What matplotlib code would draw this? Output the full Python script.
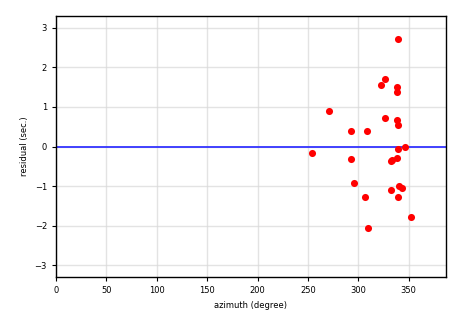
import matplotlib
matplotlib.use("Agg")
import matplotlib.pyplot as plt

azimuth = [339.4, 326.5, 322.5, 338.4, 338.4, 270.6, 326.5, 338.4, 339.4, 292.7,
           308.6, 346.3, 339.4, 254.0, 292.7, 338.4, 333.8, 332.1, 295.7, 332.1,
           340.4, 343.4, 306.6, 339.4, 352.3, 309.6]
residual = [2.73, 1.71, 1.56, 1.50, 1.37, 0.89, 0.73, 0.68, 0.55, 0.38,
            0.38, 0.00, -0.06, -0.16, -0.31, -0.29, -0.33, -0.37, -0.92, -1.10,
            -1.01, -1.05, -1.27, -1.27, -1.78, -2.06]

fig = plt.figure(figsize=(4.65, 3.15), dpi=100)
ax = fig.add_axes([0.1204, 0.1206, 0.8386, 0.8286])

ax.grid(True, color="#d8d8d8", linewidth=1.0, alpha=0.7)
ax.set_axisbelow(True)
ax.axhline(0, color="#3333ff", linewidth=1.3, zorder=2)
ax.scatter(azimuth, residual, s=26, color="red", zorder=3, linewidths=0)

ax.set_xlim(0, 387)
ax.set_ylim(-3.3, 3.3)
ax.set_xticks(range(0, 351, 50))
ax.set_yticks(range(-3, 4))
ax.tick_params(labelsize=6, length=3, width=0.8)
ax.set_xlabel("azimuth (degree)", fontsize=6)
ax.set_ylabel("residual (sec.)", fontsize=6)
for s in ax.spines.values():
    s.set_linewidth(1.0)

fig.savefig("out.png", dpi=100)
